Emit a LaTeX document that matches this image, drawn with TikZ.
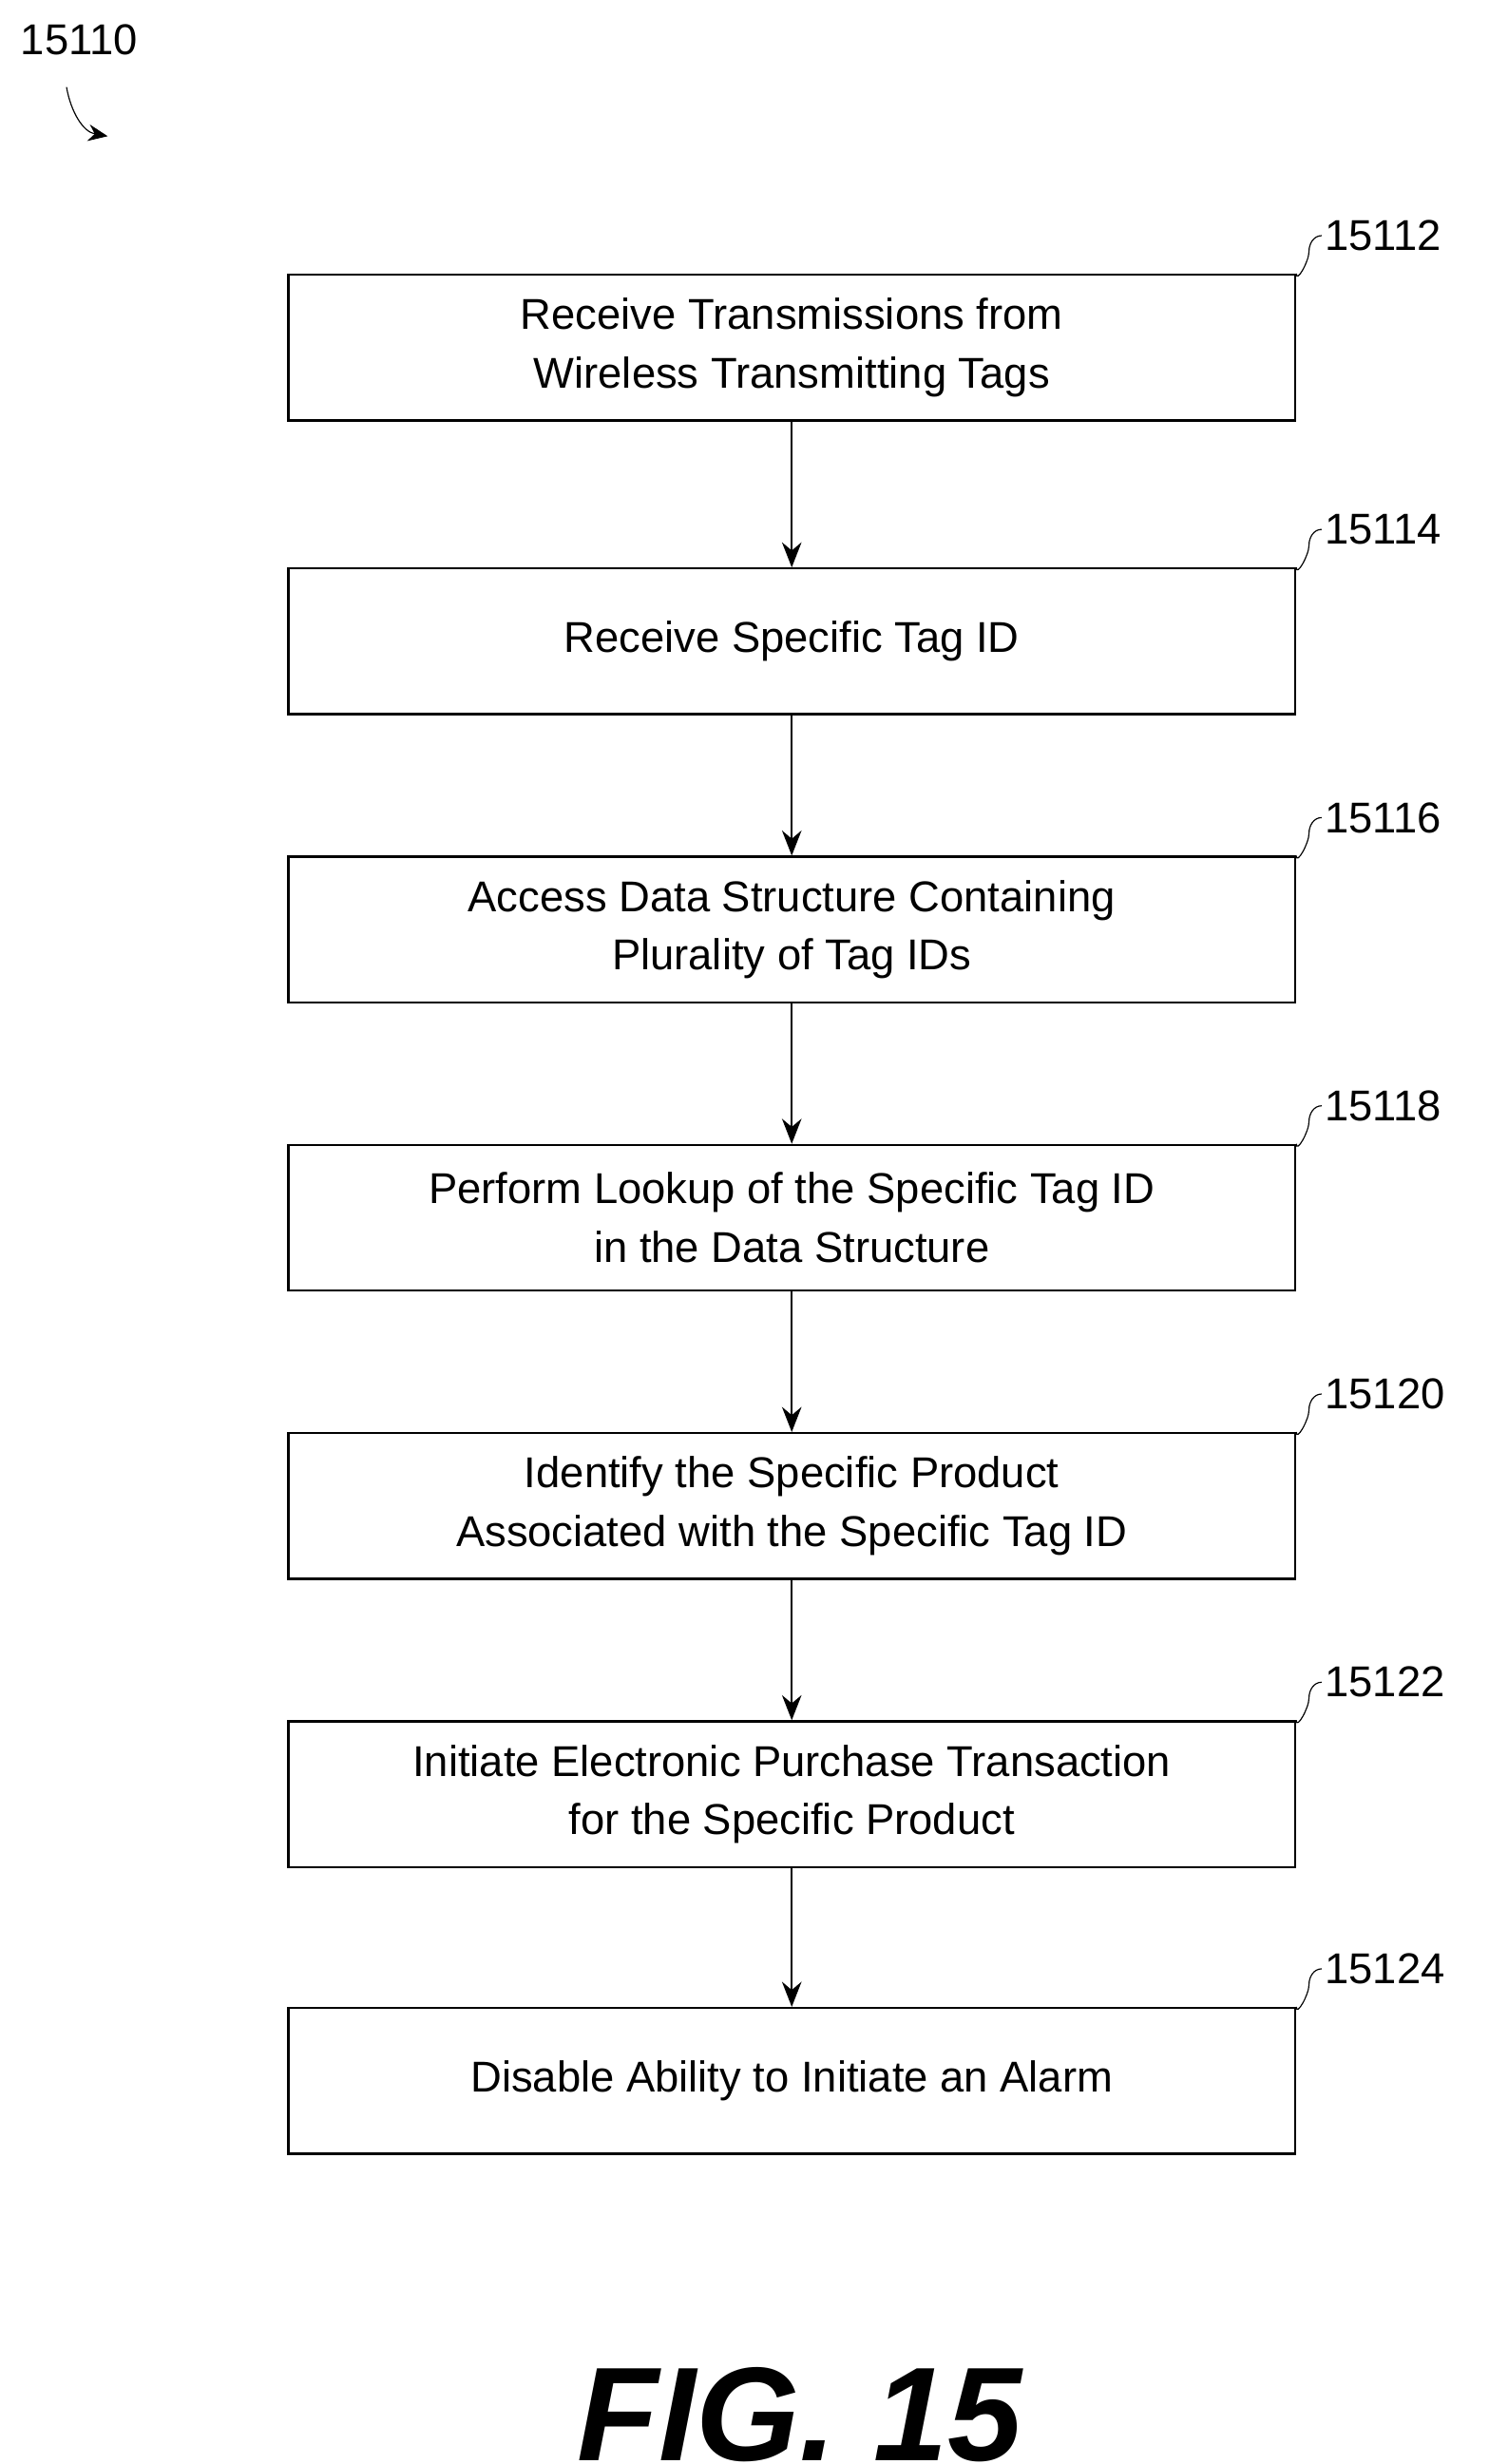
\documentclass[tikz,border=0pt]{standalone}
\usepackage{fontspec}
\setmainfont{Liberation Sans}
\usetikzlibrary{positioning,arrows.meta}

\tikzset{
  stepbox/.style={draw, thick, minimum width=12.72cm, minimum height=1.84cm,
    align=center, font=\fontsize{15.5}{21}\selectfont, inner sep=0pt},
  flow/.style={-{Stealth[length=9pt,width=7pt]}, thick},
  ref/.style={font=\fontsize{15.5}{18}\selectfont, anchor=west, inner sep=1pt},
  tick/.style={thin}
}

\begin{document}
\begin{tikzpicture}[x=0.02cm,y=-0.02cm]
        \useasboundingbox (0,0) rectangle (940,1556);

        % Figure number
        \node[ref, anchor=center] (fignum) at (50,25) {15110};
        \coordinate (figtip) at (68,86);
        \draw[-{Stealth[length=7pt,width=6pt]}] (42,55) to[out=-80,in=170] (figtip);

        % Steps
        \node[stepbox] (s12) at (500,219.5) {Receive Transmissions from\\Wireless Transmitting Tags};
        \node[stepbox] (s14) at (500,405) {Receive Specific Tag ID};
        \node[stepbox] (s16) at (500,587) {Access Data Structure Containing\\Plurality of Tag IDs};
        \node[stepbox] (s18) at (500,769) {Perform Lookup of the Specific Tag ID\\in the Data Structure};
        \node[stepbox] (s20) at (500,951) {Identify the Specific Product\\Associated with the Specific Tag ID};
        \node[stepbox] (s22) at (500,1133) {Initiate Electronic Purchase Transaction\\for the Specific Product};
        \node[stepbox] (s24) at (500,1314) {Disable Ability to Initiate an Alarm};

        % Arrows between steps
        \draw[flow] (s12) -- (s14);
        \draw[flow] (s14) -- (s16);
        \draw[flow] (s16) -- (s18);
        \draw[flow] (s18) -- (s20);
        \draw[flow] (s20) -- (s22);
        \draw[flow] (s22) -- (s24);

        % Reference numerals
        \foreach \s/\n in {s12/15112,s14/15114,s16/15116,s18/15118,s20/15120,s22/15122,s24/15124} {
            \draw[tick] (\s.north east) to[out=-90,in=-90] ++(8,-14)
                to[out=90,in=180] ++(8,-10) node[ref] (r\n) {\n};
        }

        % Title
        \node[font=\fontsize{48}{54}\selectfont\bfseries\itshape] (title) at (505,1525) {FIG. 15};
    \end{tikzpicture}
\end{document}
